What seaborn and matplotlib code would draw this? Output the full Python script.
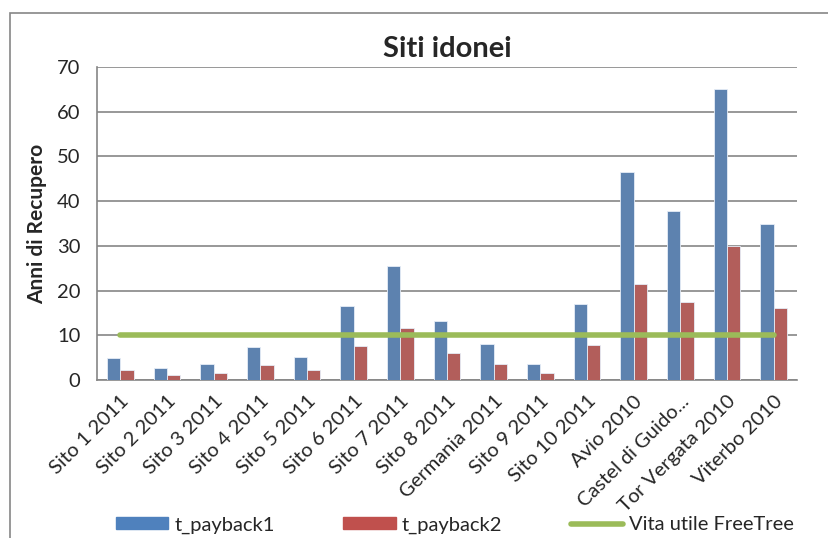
import numpy as np
import pandas as pd
import matplotlib
matplotlib.use("Agg")
import matplotlib.pyplot as plt
import seaborn as sns
from matplotlib.patches import Rectangle, Patch
from matplotlib.lines import Line2D

siti = ["Sito 1 2011", "Sito 2 2011", "Sito 3 2011", "Sito 4 2011", "Sito 5 2011",
        "Sito 6 2011", "Sito 7 2011", "Sito 8 2011", "Germania 2011", "Sito 9 2011",
        "Sito 10 2011", "Avio 2010", "Castel di Guido...", "Tor Vergata 2010",
        "Viterbo 2010"]
t_payback1 = [4.9, 2.7, 3.5, 7.4, 5.1, 16.5, 25.4, 13.2, 8.0, 3.5, 17.0, 46.5, 37.9, 65.0, 35.0]
t_payback2 = [2.2, 1.2, 1.6, 3.4, 2.2, 7.6, 11.6, 6.0, 3.6, 1.6, 7.8, 21.4, 17.4, 29.9, 16.1]
vita_utile = [10] * len(siti)
y_ticks = [0, 10, 20, 30, 40, 50, 60, 70]

sns.set_theme(style="white")
plt.rcParams["font.family"] = ["Lato", "DejaVu Sans"]

df = pd.DataFrame({
    "sito": siti * 2,
    "anni": t_payback1 + t_payback2,
    "serie": ["t_payback1"] * len(siti) + ["t_payback2"] * len(siti),
})

fig = plt.figure(figsize=(8.29, 5.38), dpi=100)
ax = fig.add_axes([97 / 829, 1 - 380 / 538, 700 / 829, 313 / 538])

# outer chart border
fig.patches.append(Rectangle((10 / 829, -0.1), 1.2, 1 - 13 / 538 + 0.1,
                             transform=fig.transFigure, fill=False,
                             edgecolor="#868686", linewidth=1.2, zorder=0))

grid_c = "#868686"
sns.barplot(data=df, x="sito", y="anni", hue="serie", order=siti,
            palette={"t_payback1": "#4F81BD", "t_payback2": "#C0504D"},
            width=0.571, gap=0, edgecolor="#e6edf7", linewidth=0.6,
            errorbar=None, ax=ax, legend=False, zorder=3)
sns.lineplot(x=np.arange(len(siti)), y=vita_utile, color="#9BBB59", linewidth=4,
             solid_capstyle="round", ax=ax, zorder=4)

ax.set_xlim(-0.5, len(siti) - 0.5)
ax.set_ylim(0, 70)
ax.set_yticks(y_ticks)
ax.yaxis.grid(True, color=grid_c, linewidth=1.2)
ax.set_axisbelow(True)
for s in ["top", "right"]:
    ax.spines[s].set_visible(False)
for s in ["left", "bottom"]:
    ax.spines[s].set_color(grid_c)
    ax.spines[s].set_linewidth(1.2)

ax.set_xticks(np.arange(len(siti)))
ax.set_xticklabels(siti, rotation=45, ha="right", rotation_mode="anchor", fontsize=14.5)
ax.set_xticks(np.arange(len(siti) + 1) - 0.5, minor=True)
ax.tick_params(axis="x", which="major", length=0, pad=9)
ax.tick_params(axis="x", which="minor", length=6, color=grid_c, width=1.2, direction="out")
ax.tick_params(axis="y", length=6, color=grid_c, width=1.2, direction="out", labelsize=14.5, pad=6)

ax.set_xlabel("")
ax.set_ylabel("Anni di Recupero", fontsize=15, fontweight="bold", labelpad=7)
ax.set_title("Siti idonei", fontsize=21, fontweight="bold", pad=7)

handles = [Patch(color="#4F81BD"), Patch(color="#C0504D"),
           Line2D([], [], color="#9BBB59", linewidth=4, solid_capstyle="round")]
fig.legend(handles, ["t_payback1", "t_payback2", "Vita utile FreeTree"],
           loc="center", bbox_to_anchor=(455 / 829, 1 - 525 / 538), ncol=3,
           frameon=False, fontsize=14.5, handlelength=2.6, handleheight=0.55,
           columnspacing=3.4, handletextpad=0.3)

fig.savefig("out.png", dpi=100)
